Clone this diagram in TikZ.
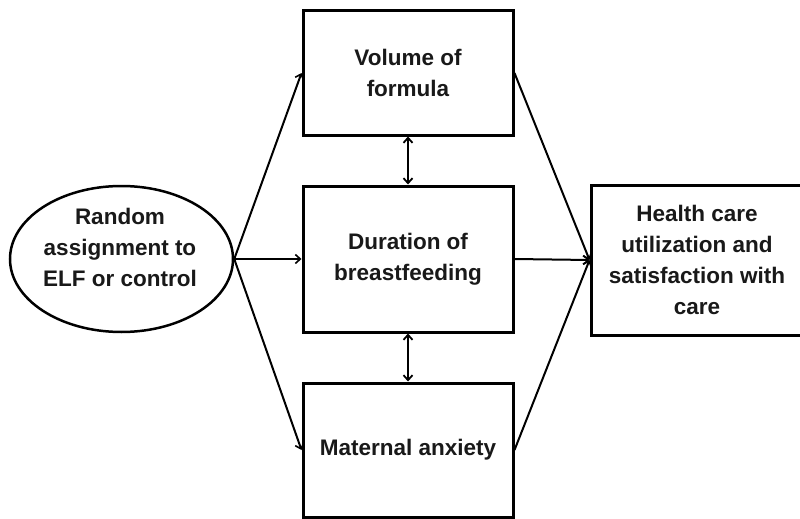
\documentclass[tikz,border=0pt]{standalone}
\usepackage{fontspec}
\setmainfont{Liberation Sans}
\usetikzlibrary{arrows.meta,shapes.geometric}
\tikzset{
  txt/.style={font=\bfseries\fontsize{22.5}{31}\selectfont, align=center, text=black!90},
  boxnode/.style={draw=black, line width=3pt, minimum width=210pt, inner sep=0pt, txt},
  conn/.style={line width=2pt, -{Straight Barb[length=5pt,width=9pt,line width=1.6pt]}},
  dbl/.style={line width=2.5pt, {Straight Barb[length=5pt,width=9pt,line width=1.8pt]}-{Straight Barb[length=5pt,width=9pt,line width=1.8pt]}}
}
\begin{document}
\begin{tikzpicture}[x=1pt,y=-1pt]
\useasboundingbox (0,0) rectangle (800,519);
\clip (0,0) rectangle (800,519);
\fill[white] (0,0) rectangle (800,519);
\node[draw=black, line width=2.5pt, ellipse, minimum width=223pt, minimum height=146pt, inner sep=0pt] (ell) at (121.5,259) {};
\node[txt] (elltext) at (120,247) {Random\\assignment to\\ELF or control};
\node[boxnode, minimum height=124pt] (vol) at (408,73) {Volume of\\formula};
\node[boxnode, minimum height=146pt] (dur) at (408,259) {Duration of\\breastfeeding};
\node[boxnode, minimum height=134pt] (mat) at (408,450) {Maternal anxiety};
\node[boxnode, minimum width=212pt, minimum height=150pt] (hc) at (697,260) {Health care\\utilization and\\satisfaction with\\care};
\draw[conn] (ell.east) -- (vol.west);
\draw[conn] (ell.east) -- (dur.west);
\draw[conn] (ell.east) -- (mat.west);
\draw[conn] (vol.east) -- (hc.west);
\draw[conn] (dur.east) -- (hc.west);
\draw[conn] (mat.east) -- (hc.west);
\draw[dbl] (vol.south) -- (dur.north);
\draw[dbl] (dur.south) -- (mat.north);
\end{tikzpicture}
\end{document}
